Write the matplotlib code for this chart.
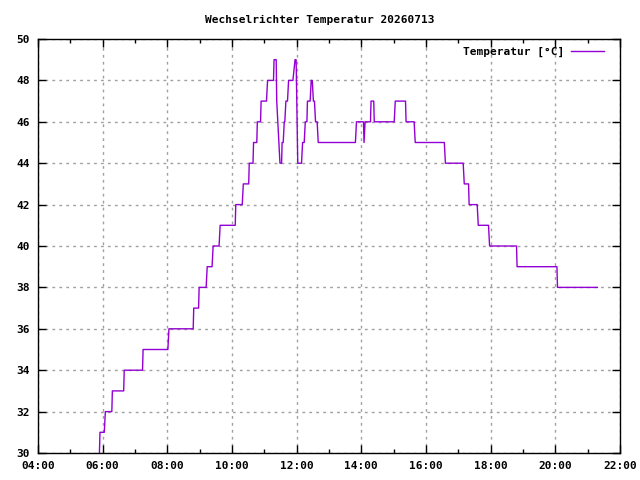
import matplotlib
matplotlib.use('Agg')
import matplotlib.pyplot as plt
from matplotlib.ticker import MultipleLocator, FuncFormatter

# Messpunkte (Uhrzeit, Temperatur in °C)
times = [
    "05:54", "05:55", "06:03", "06:05", "06:17", "06:18", "06:39", "06:40",
    "07:14", "07:15", "08:01", "08:03", "08:48", "08:49", "08:58", "08:59",
    "09:12", "09:14", "09:23", "09:25", "09:36", "09:38", "10:06", "10:07",
    "10:19", "10:21", "10:31", "10:32", "10:39", "10:40", "10:46", "10:47",
    "10:53", "10:54", "11:04", "11:06", "11:17", "11:18", "11:22", "11:23",
    "11:25", "11:27", "11:29", "11:32", "11:33", "11:35", "11:37", "11:38",
    "11:40", "11:43", "11:45", "11:53", "11:57", "11:59", "12:02", "12:09",
    "12:11", "12:14", "12:16", "12:19", "12:20", "12:25", "12:27", "12:29",
    "12:31", "12:33", "12:35", "12:38", "12:40", "13:49", "13:51", "14:04",
    "14:05", "14:07", "14:17", "14:18", "14:23", "14:24", "15:01", "15:03",
    "15:22", "15:23", "15:38", "15:40", "16:34", "16:36", "17:09", "17:11",
    "17:19", "17:20", "17:35", "17:37", "17:56", "17:58", "18:48", "18:49",
    "20:03", "20:04", "21:18",
]
temps = [
    30, 31, 31, 32, 32, 33, 33, 34,
    34, 35, 35, 36, 36, 37, 37, 38,
    38, 39, 39, 40, 40, 41, 41, 42,
    42, 43, 43, 44, 44, 45, 45, 46,
    46, 47, 47, 48, 48, 49, 49, 47,
    46, 45, 44, 44, 45, 45, 46, 46,
    47, 47, 48, 48, 49, 49, 44, 44,
    45, 45, 46, 46, 47, 47, 48, 48,
    47, 47, 46, 46, 45, 45, 46, 46,
    45, 46, 46, 47, 47, 46, 46, 47,
    47, 46, 46, 45, 45, 44, 44, 43,
    43, 42, 42, 41, 41, 40, 40, 39,
    39, 38, 38,
]

title = "Wechselrichter Temperatur 20260713"
series_label = "Temperatur [°C]"


def to_hours(s):
    h, m = s.split(":")
    return int(h) + int(m) / 60.0


hours = [to_hours(t) for t in times]

plt.rcParams['font.family'] = ['DejaVu Sans Mono']
plt.rcParams['font.size'] = 8

fig = plt.figure(figsize=(6.4, 4.8), dpi=100)
ax = fig.add_axes([38 / 640, 27 / 480, 582 / 640, 414 / 480])

ax.plot(hours, temps, color='#9400d3', linewidth=1.0, label=series_label)

ax.set_xlim(4, 22)
ax.set_ylim(30, 50)
ax.xaxis.set_major_locator(MultipleLocator(2))
ax.xaxis.set_minor_locator(MultipleLocator(1))
ax.yaxis.set_major_locator(MultipleLocator(2))
ax.xaxis.set_major_formatter(FuncFormatter(lambda v, p: f"{int(round(v)):02d}:00"))

ax.tick_params(which='both', direction='in', top=True, right=True, width=1)
ax.tick_params(which='major', length=6, labelsize=8, pad=6)
ax.tick_params(which='minor', length=3)
for lbl in ax.get_xticklabels() + ax.get_yticklabels():
    lbl.set_fontweight('bold')

ax.grid(True, which='major', color='#a0a0a0', linestyle=(0, (2, 3)), linewidth=1)
for sp in ax.spines.values():
    sp.set_linewidth(1)

fig.text(0.5, 1 - 20 / 480, title, ha='center', va='center', fontsize=8, fontweight='bold')

ax.legend(loc='upper right', bbox_to_anchor=(574 / 582, 1.0), frameon=False,
          markerfirst=False, handlelength=3.0, handletextpad=0.6,
          prop={'weight': 'bold', 'size': 8}, borderaxespad=0.3)

fig.savefig('out.png', dpi=100)
